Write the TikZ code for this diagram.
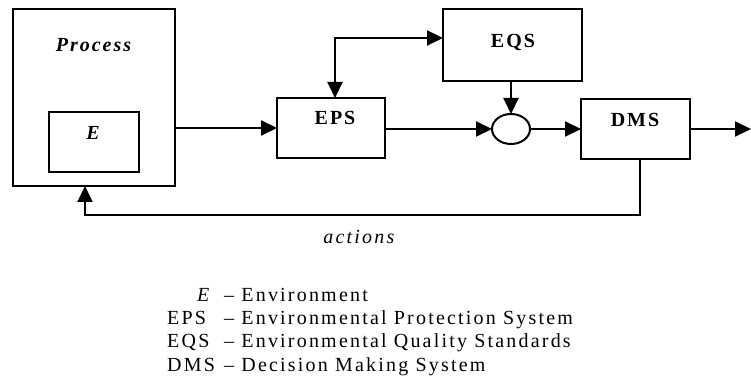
\documentclass[tikz,border=0pt]{standalone}
\usepackage{fontspec}
\setmainfont{Liberation Serif}
\newfontfamily\boxfont[LetterSpace=10]{Liberation Serif}
\newfontfamily\legfont[LetterSpace=11]{Liberation Serif}
\usetikzlibrary{arrows.meta,shapes.geometric}
\begin{document}
\begin{tikzpicture}[x=1pt,y=-1pt,
  box/.style={draw,line width=2pt,inner sep=0pt,outer sep=0pt},
  arr/.style={line width=2pt,-{Triangle[length=16pt,width=15pt]}},
  arrboth/.style={line width=2pt,{Triangle[length=16pt,width=15pt]}-{Triangle[length=16pt,width=15pt]}},
  blbl/.style={inner sep=0pt,anchor=base,font=\boxfont\bfseries\fontsize{20}{24}\selectfont},
  leg/.style={inner sep=0pt,anchor=base west,font=\legfont\fontsize{20}{24}\selectfont}]
\useasboundingbox (0,0) rectangle (751,379);
% boxes
\node[box,minimum width=162,minimum height=177] (proc) at (94,97.5) {};
\node[box,minimum width=90,minimum height=60] (ebox) at (94,142) {};
\node[box,minimum width=108,minimum height=60] (eps) at (331,128) {};
\node[box,minimum width=139,minimum height=72] (eqs) at (512.5,45) {};
\node[box,minimum width=109,minimum height=60] (dms) at (635.5,129) {};
\node[box,ellipse,minimum width=38,minimum height=30] (circ) at (511,129) {};
% labels in boxes
\node[blbl] (tproc) at (94.5,52) {\textit{Process}};
\node[blbl] (tE) at (94,140) {\textit{E}};
\node[blbl] (teps) at (335,125) {EPS};
\node[blbl] (teqs) at (513,48) {EQS};
\node[blbl] (tdms) at (635,127) {DMS};
% connectors
\coordinate (c2) at (335,38);
\coordinate (outp) at (751,129);
\coordinate (fbR) at (640,215);
\coordinate (fbL) at (85,215);
\draw[arr] (proc.east |- eps.west) -- (eps.west);
\draw[arrboth] (eps.north -| c2) -- (c2) -- (eqs.west |- c2);
\draw[arr] (eqs.south -| circ.north) -- (circ.north);
\draw[arr] (eps.east |- circ.west) -- (circ.west);
\draw[arr] (circ.east) -- (dms.west |- circ.east);
\draw[arr] (dms.east |- outp) -- (outp);
\draw[arr] (dms.south -| fbR) -- (fbR) -- (fbL) -- (proc.south -| fbL);
% actions
\node[inner sep=0pt,anchor=base,font=\legfont\fontsize{20}{24}\selectfont] (act) at (360,243) {\textit{actions}};
% legend
\node[leg] (lE) at (197,301) {\textit{E}};
\node[leg] (lEt) at (224,301) {– Environment};
\node[leg] (lEPS) at (167,324) {EPS};
\node[leg] (lEPSt) at (224,324) {– Environmental Protection System};
\node[leg] (lEQS) at (167,347) {EQS};
\node[leg] (lEQSt) at (224,347) {– Environmental Quality Standards};
\node[leg] (lDMS) at (167,371) {DMS};
\node[leg] (lDMSt) at (224,371) {– Decision Making System};
\end{tikzpicture}
\end{document}
